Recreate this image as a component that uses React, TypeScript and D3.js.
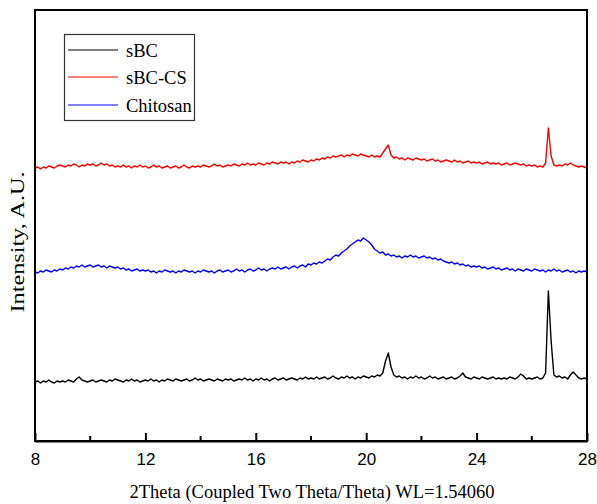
import React, { useEffect, useRef } from 'react'
import * as d3 from 'd3'

const width = 597
const height = 504
const margin = { top: 10, right: 10, bottom: 63, left: 35 }

// 2theta sampling, 0.1 deg steps from 8 to 28
const twoTheta = d3.range(0, 201).map(i => 8 + i / 10)

const xTicks = [8, 12, 16, 20, 24, 28]
const xMinorTicks = [10, 14, 18, 22, 26]

// intensities (A.U.), one row per degree
const sBC = [
    59, 60, 58, 60, 59, 61, 59, 58, 60, 59,
    60, 59, 61, 60, 59, 62, 64, 61, 60, 59,
    60, 61, 59, 60, 61, 60, 59, 61, 60, 62,
    61, 60, 59, 61, 60, 62, 60, 61, 59, 60,
    61, 60, 62, 60, 61, 59, 61, 60, 62, 61,
    60, 62, 61, 60, 61, 62, 60, 61, 63, 61,
    62, 60, 61, 62, 61, 60, 62, 61, 60, 62,
    61, 62, 60, 61, 62, 61, 63, 61, 62, 60,
    62, 61, 63, 61, 62, 60, 62, 63, 61, 62,
    63, 61, 62, 63, 62, 61, 63, 62, 64, 62,
    63, 62, 64, 62, 63, 64, 62, 63, 65, 63,
    62, 64, 63, 65, 63, 64, 62, 64, 63, 65,
    64, 63, 65, 64, 66, 65, 68, 80, 88, 74,
    66, 64, 65, 63, 64, 62, 64, 63, 65, 63,
    64, 62, 63, 65, 63, 64, 62, 63, 64, 62,
    63, 64, 62, 63, 65, 68, 64, 63, 62, 64,
    63, 62, 64, 63, 62, 63, 64, 62, 63, 62,
    63, 62, 64, 63, 62, 64, 67, 65, 62, 63,
    62, 63, 64, 62, 63, 68, 150, 100, 66, 64,
    65, 63, 64, 62, 66, 69, 66, 63, 62, 63,
    62
]

const sBCCS = [
    273, 274, 272, 274, 273, 275, 274, 273, 275, 276,
    275, 274, 276, 275, 277, 276, 274, 276, 275, 277,
    276, 277, 275, 276, 278, 276, 277, 275, 276, 274,
    275, 274, 276, 274, 275, 273, 275, 274, 276, 274,
    275, 273, 274, 276, 274, 275, 273, 274, 275, 273,
    274, 275, 273, 274, 276, 274, 273, 275, 274, 275,
    274, 276, 275, 274, 275, 277, 275, 276, 274, 275,
    276, 275, 277, 276, 275, 277, 276, 278, 276, 277,
    276, 278, 277, 276, 278, 277, 279, 278, 277, 279,
    278, 279, 277, 279, 278, 280, 279, 281, 280, 279,
    281, 280, 282, 281, 283, 282, 284, 283, 285, 284,
    285, 286, 284, 286, 285, 287, 286, 285, 287, 286,
    285, 284, 286, 284, 285, 284, 288, 292, 296, 286,
    283, 284, 282, 283, 281, 283, 282, 281, 283, 282,
    281, 282, 280, 281, 282, 280, 281, 279, 280, 281,
    280, 279, 281, 279, 280, 278, 279, 280, 278, 279,
    278, 279, 277, 278, 279, 277, 278, 277, 278, 276,
    277, 278, 276, 277, 278, 277, 276, 277, 275, 276,
    275, 276, 274, 275, 274, 278, 313, 285, 276, 275,
    276, 275, 277, 276, 278, 276, 275, 274, 275, 274,
    273
]

const chitosan = [
    169, 168, 170, 169, 171, 170, 169, 171, 170, 172,
    171, 173, 172, 174, 173, 175, 174, 176, 174, 175,
    176, 174, 175, 176, 174, 175, 173, 175, 174, 173,
    174, 172, 173, 171, 172, 170, 171, 172, 170, 171,
    170, 171, 169, 170, 168, 170, 169, 171, 170, 169,
    170, 168, 170, 169, 171, 170, 169, 170, 168, 170,
    169, 171, 170, 169, 170, 168, 170, 171, 169, 170,
    171, 169, 170, 172, 170, 171, 169, 171, 172, 170,
    171, 173, 171, 172, 170, 172, 173, 172, 174, 172,
    173, 174, 172, 174, 175, 173, 175, 176, 174, 177,
    176, 178, 177, 179, 178, 180, 182, 181, 184, 186,
    185, 188, 190, 192, 195, 197, 199, 201, 200, 203,
    201, 199, 196, 192, 190, 188, 189, 186, 187, 185,
    186, 184, 185, 183, 185, 184, 186, 184, 185, 183,
    184, 185, 183, 184, 182, 183, 181, 182, 180, 179,
    178, 179, 177, 178, 176, 177, 175, 176, 174, 175,
    174, 175, 173, 174, 172, 173, 174, 172, 173, 171,
    172, 173, 171, 172, 170, 172, 171, 170, 172, 171,
    170, 172, 171, 170, 171, 169, 171, 170, 172, 170,
    171, 169, 170, 171, 169, 170, 168, 170, 169, 170,
    169
]

const seriesNames = ['sBC', 'sBC-CS', 'Chitosan']
const seriesColors = ['#000000', '#ff0000', '#0000ff']

export default function App() {
    const svgNode = useRef<SVGSVGElement>(null)

    useEffect(() => {
        const svg = d3.select(svgNode.current)
        svg.selectAll('*').remove()

        const x = d3.scaleLinear()
            .domain([8, 28])
            .range([margin.left, width - margin.right])
        const y = d3.scaleLinear()
            .domain([0, 431])
            .range([height - margin.bottom, margin.top])

        const line = d3.line<number>()
            .x((d, i) => x(twoTheta[i]))
            .y(d => y(d))

        const all = [sBC, sBCCS, chitosan]
        svg.append('g')
            .selectAll('path')
            .data(all)
            .join('path')
            .attr('d', d => line(d))
            .attr('fill', 'none')
            .attr('stroke', (d, i) => seriesColors[i])
            .attr('stroke-width', 1.4)
            .attr('stroke-linejoin', 'round')

        // frame
        svg.append('rect')
            .attr('x', margin.left)
            .attr('y', margin.top)
            .attr('width', width - margin.left - margin.right)
            .attr('height', height - margin.top - margin.bottom)
            .attr('fill', 'none')
            .attr('stroke', '#000')
            .attr('stroke-width', 2)

        const xAxis = d3.axisBottom(x)
            .tickValues(xTicks)
            .tickSizeInner(-8)
            .tickSizeOuter(0)
            .tickPadding(12)
        const gx = svg.append('g')
            .attr('transform', `translate(0,${height - margin.bottom})`)
            .call(xAxis)
        gx.select('.domain').attr('stroke-width', 2)
        gx.selectAll('.tick line').attr('stroke-width', 2)
        gx.selectAll('.tick text')
            .attr('font-family', 'Arial, "Liberation Sans", sans-serif')
            .attr('font-size', 17)
            .attr('fill', '#000')

        svg.append('g')
            .selectAll('line')
            .data(xMinorTicks)
            .join('line')
            .attr('x1', d => x(d))
            .attr('x2', d => x(d))
            .attr('y1', height - margin.bottom)
            .attr('y2', height - margin.bottom - 5)
            .attr('stroke', '#000')
            .attr('stroke-width', 2)

        svg.append('text')
            .attr('x', 312)
            .attr('y', 498)
            .attr('text-anchor', 'middle')
            .attr('font-family', '"Liberation Serif", "Times New Roman", serif')
            .attr('font-size', 18.5)
            .attr('fill', '#000')
            .text('2Theta (Coupled Two Theta/Theta) WL=1.54060')

        svg.append('text')
            .attr('transform', 'translate(24,242) rotate(-90)')
            .attr('text-anchor', 'middle')
            .attr('font-family', '"Liberation Serif", "Times New Roman", serif')
            .attr('font-size', 19)
            .attr('textLength', 141)
            .attr('lengthAdjust', 'spacingAndGlyphs')
            .attr('fill', '#000')
            .text('Intensity, A.U.')

        // legend
        const legend = svg.append('g')
        legend.append('rect')
            .attr('x', 64.5)
            .attr('y', 34.5)
            .attr('width', 130)
            .attr('height', 86)
            .attr('fill', '#fff')
            .attr('stroke', '#333')
            .attr('stroke-width', 1.2)
        const rows = [50, 77, 105]
        const entry = legend.selectAll('g.entry')
            .data(seriesNames)
            .join('g')
            .attr('class', 'entry')
            .attr('transform', (d, i) => `translate(0,${rows[i]})`)
        entry.append('line')
            .attr('x1', 68)
            .attr('x2', 118)
            .attr('stroke', (d, i) => seriesColors[i])
            .attr('stroke-width', 1.2)
        entry.append('text')
            .attr('x', 126)
            .attr('y', 6.5)
            .attr('font-family', '"Liberation Serif", "Times New Roman", serif')
            .attr('font-size', 18.5)
            .attr('fill', '#000')
            .text(d => d)
    }, [])

    return (
        <div style={{ position: 'fixed', left: 0, top: 0 }}>
            <svg ref={svgNode} width={width} height={height} style={{ display: 'block', background: '#fff' }} />
        </div>
    )
}
